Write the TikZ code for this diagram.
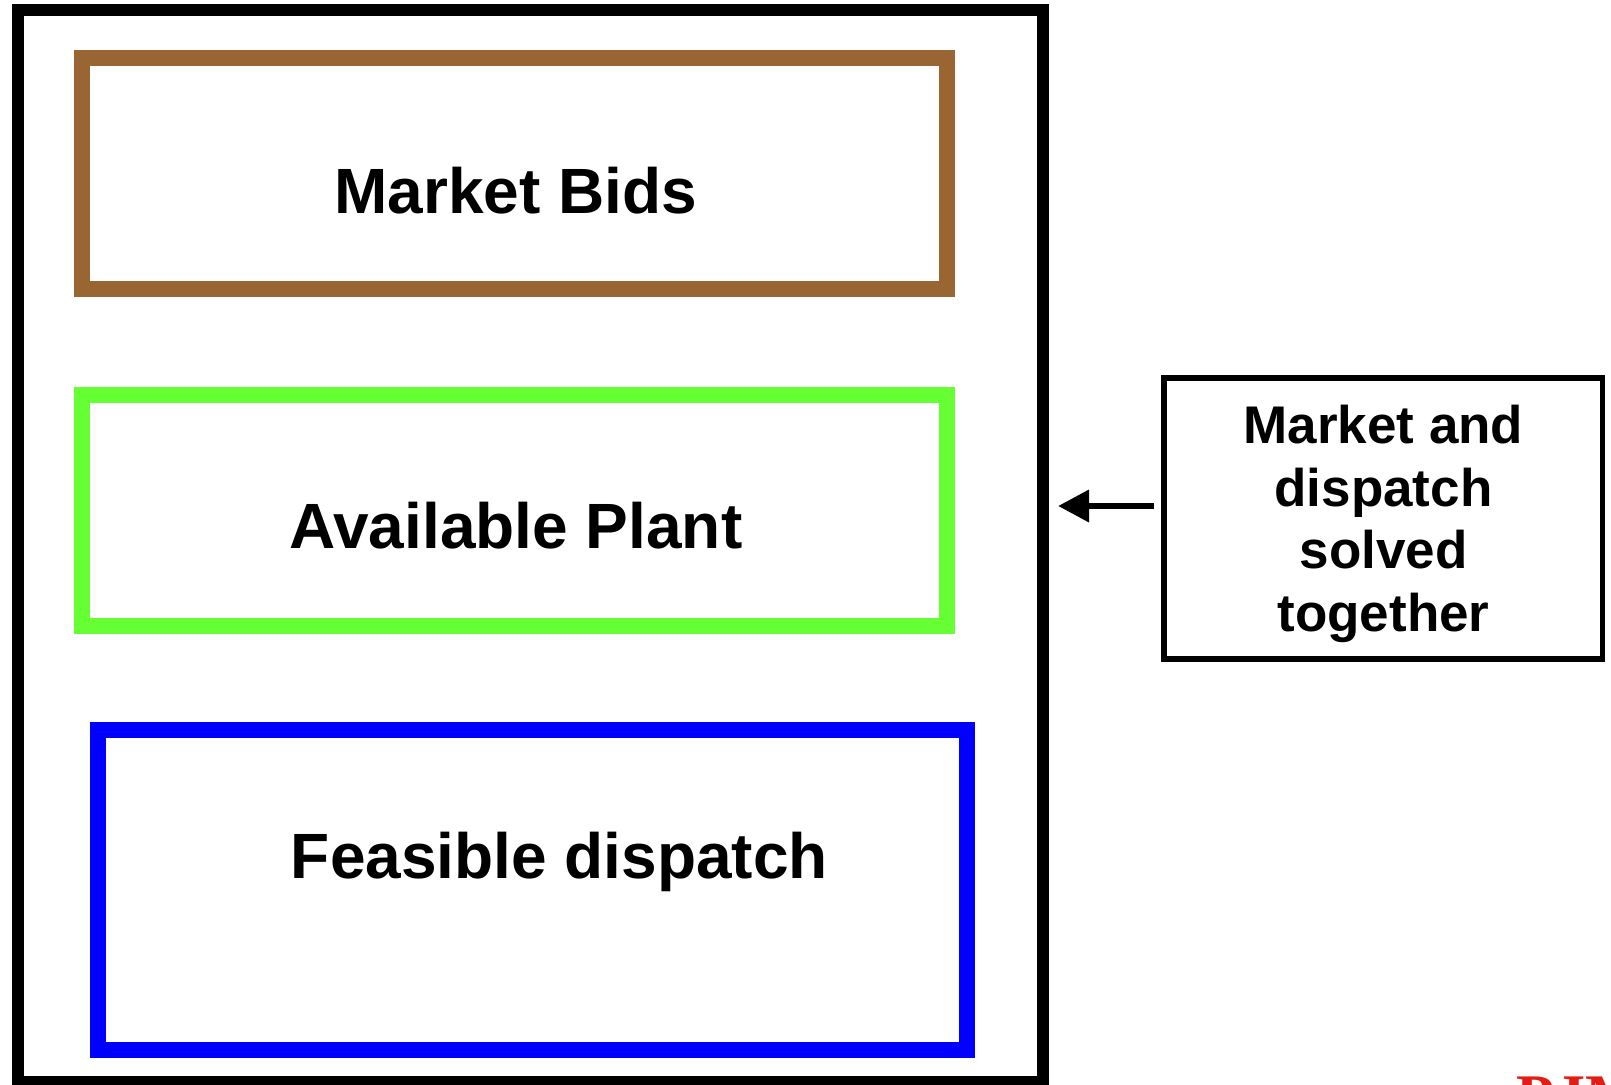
\documentclass[tikz,border=0pt]{standalone}
\usepackage{fontspec}
\setmainfont{Liberation Sans}
\newfontfamily\logofont{Liberation Serif}
\usetikzlibrary{arrows.meta}
\definecolor{bidbrown}{RGB}{153,102,51}
\definecolor{plantgreen}{RGB}{102,255,51}
\definecolor{dispblue}{RGB}{0,0,255}
\definecolor{logored}{RGB}{226,30,20}
\tikzset{
  framebox/.style={draw=black, line width=12pt},
  stagebox/.style={line width=16pt},
  notebox/.style={draw=black, line width=5.7pt},
  bigtext/.style={font=\fontsize{64}{70}\selectfont\bfseries, inner sep=0pt, anchor=base},
  notetext/.style={font=\fontsize{53}{62.5}\selectfont\bfseries, inner sep=0pt, align=center, anchor=base},
  feedarrow/.style={line width=6.7pt, -{Triangle[length=31pt,width=31pt]}}
}
\begin{document}
\begin{tikzpicture}[x=1pt,y=-1pt]
\useasboundingbox (0,0) rectangle (1611,1084);
% outer frame
\draw[framebox] (18,10) rectangle (1042.5,1082);
% stage boxes
\draw[stagebox, draw=bidbrown] (82,58) rectangle (946.7,289);
\draw[stagebox, draw=plantgreen] (82,394.7) rectangle (946.7,625.5);
\draw[stagebox, draw=dispblue] (98,730.3) rectangle (966.7,1050.3);
\node[bigtext] (bids) at (516,213.5) {Market Bids};
\node[bigtext] (plant) at (516,548.5) {Available Plant};
\node[bigtext] (feas) at (559.5,878) {Feasible dispatch};
% note box
\draw[notebox] (1164,378) rectangle (1602.5,659);
\node[notetext] (note) at (1383.5,631) {Market and\\dispatch\\solved\\together};
% arrow
\coordinate (arrS) at (1154,506);
\coordinate (arrE) at (1058,506);
\draw[feedarrow] (arrS) -- (arrE);
% logo fragment
\node[font=\logofont\fontsize{62}{70}\selectfont\bfseries, text=logored, inner sep=0pt, anchor=base west] (logo) at (1516,1117) {PJM};
\end{tikzpicture}
\end{document}
